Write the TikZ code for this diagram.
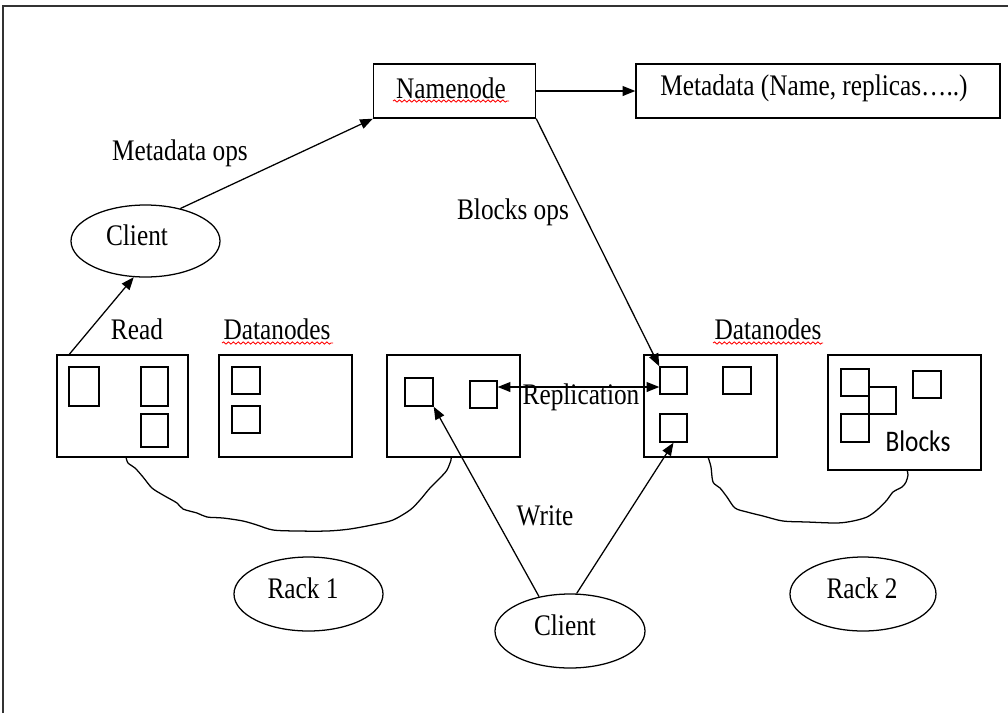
\documentclass[tikz,border=0pt]{standalone}
\usepackage{fontspec}
\setmainfont{Liberation Serif}
\newfontfamily\carlitofont{Carlito}
\usetikzlibrary{shapes.geometric,arrows.meta,decorations.pathmorphing,calc}
\newlength\pxl
\setlength\pxl{0.025cm}
\newcommand\tallt[1]{\scalebox{1}[1.18]{#1}}
\begin{document}
\begin{tikzpicture}[x=0.025cm,y=-0.025cm,
  line width=0.9pt,
  txt/.style={font=\fontsize{18}{21}\selectfont, inner sep=0pt},
  boxn/.style={draw, line width=1pt, inner sep=0pt},
  blk/.style={draw, line width=1pt, inner sep=0pt},
  ell/.style={draw, ellipse, inner sep=0pt, line width=0.9pt},
  arr/.style={-{Triangle[length=9pt,width=7pt]}},
  darr/.style={{Triangle[length=9pt,width=7pt]}-{Triangle[length=9pt,width=7pt]}},
  squig/.style={red, line width=0.6pt, decorate, decoration={snake, amplitude=0.8pt, segment length=3.5pt}}
]
\useasboundingbox (0,0) rectangle (1008,713);
% frame
\draw[line width=1.4pt, black!80] (3,713) -- (3,6) -- (1008,6);

% top boxes
\node[boxn, minimum width=162*\pxl, minimum height=54*\pxl] (nn) at (454.5,91) {};
\node[txt] (nnt) at (451,88) {\tallt{Namenode}};
\node[boxn, minimum width=364*\pxl, minimum height=54*\pxl] (md) at (818,91) {};
\node[txt] (mdt) at (814,88) {\tallt{Metadata (Name, replicas…..)}};
\draw[squig] (393,101) -- (509,101);

% labels
\node[txt] (mops) at (180,153) {\tallt{Metadata ops}};
\node[txt] (bops) at (513,212) {\tallt{Blocks ops}};
\node[txt] (read) at (137,329) {\tallt{Read}};
\node[txt] (dn1) at (277,329) {\tallt{Datanodes}};
\draw[squig] (222,343) -- (333,343);
\node[txt] (dn2) at (768,329) {\tallt{Datanodes}};
\draw[squig] (713,343) -- (823,343);
\node[txt] (write) at (545,516) {\tallt{Write}};

% client 1
\node[ell, minimum width=149*\pxl, minimum height=72*\pxl] (c1) at (145.5,241) {};
\node[txt] (c1t) at (137,235) {\tallt{Client}};

% rack 1 boxes
\node[boxn, minimum width=131*\pxl, minimum height=102*\pxl] (a) at (122.5,406) {};
\node[blk, minimum width=30*\pxl, minimum height=39*\pxl] (a1) at (84,386.5) {};
\node[blk, minimum width=27*\pxl, minimum height=39*\pxl] (a2) at (154.5,386.5) {};
\node[blk, minimum width=27*\pxl, minimum height=33*\pxl] (a3) at (154.5,430.5) {};

\node[boxn, minimum width=133*\pxl, minimum height=102*\pxl] (b) at (285.5,406) {};
\node[blk, minimum width=28*\pxl, minimum height=27*\pxl] (b1) at (246,380.5) {};
\node[blk, minimum width=28*\pxl, minimum height=27*\pxl] (b2) at (246,419.5) {};

\node[boxn, minimum width=133*\pxl, minimum height=102*\pxl] (c) at (453.5,406) {};
\node[blk, minimum width=28*\pxl, minimum height=28*\pxl] (cs1) at (419,392) {};
\node[blk, minimum width=27*\pxl, minimum height=27*\pxl] (cs2) at (483.5,394.5) {};

% rack 2 boxes
\node[boxn, minimum width=133*\pxl, minimum height=102*\pxl] (d) at (710.5,406) {};
\node[blk, minimum width=27*\pxl, minimum height=27*\pxl] (d1) at (673.5,380.5) {};
\node[blk, minimum width=28*\pxl, minimum height=27*\pxl] (d2) at (737,380.5) {};
\node[blk, minimum width=27*\pxl, minimum height=28*\pxl] (d3) at (673.5,428) {};

\node[boxn, minimum width=153*\pxl, minimum height=115*\pxl] (e) at (904.5,412.5) {};
\node[blk, minimum width=28*\pxl, minimum height=27*\pxl] (e1) at (855,382.5) {};
\node[blk, minimum width=27*\pxl, minimum height=27*\pxl] (e2) at (882.5,400.5) {};
\node[blk, minimum width=28*\pxl, minimum height=28*\pxl] (e3) at (855,428) {};
\node[blk, minimum width=28*\pxl, minimum height=27*\pxl] (e4) at (927,384.5) {};
\node[font=\carlitofont\fontsize{18}{21}\selectfont, inner sep=0pt] (blocks) at (918,441) {\tallt{Blocks}};

% replication
\coordinate (repy) at (580,387);
\draw[darr] (cs2.east |- repy) -- (d1.west |- repy);
\node[txt] (rep) at (581,397) {\tallt{Replication}};

% bottom ellipses
\node[ell, minimum width=149*\pxl, minimum height=74*\pxl] (r1) at (308.5,594) {};
\node[txt] (r1t) at (303,588) {\tallt{Rack 1}};
\node[ell, minimum width=150*\pxl, minimum height=74*\pxl] (c2) at (570,631) {};
\node[txt] (c2t) at (565,625) {\tallt{Client}};
\node[ell, minimum width=146*\pxl, minimum height=74*\pxl] (r2) at (863,594) {};
\node[txt] (r2t) at (862,588) {\tallt{Rack 2}};

% arrows
\draw[arr] (nn.east) -- (md.west);
\draw[arr] (c1.43) -- (nn.south west);
\draw[arr] (a.north west)++(13,0) -- (c1.252);
\draw[arr] (nn.south east) -- (d1.north west);
\draw[arr] (c2.132) -- (cs1.south east);
\draw[arr] (c2.80) -- (d3.south);

% rack curves
\draw[line width=0.9pt] plot[smooth, tension=0.5] coordinates {(126,457) (128,463) (135,468) (143,477) (152,488) (163,495) (177,503) (183,509) (197,513) (207,517) (223,518) (243,521) (257,525) (273,530) (297,531) (327,531) (350,529) (377,524) (393,520) (410,510) (420,500) (430,488) (440,478) (447,470) (451,460) (451,457)};
\draw[line width=0.9pt] plot[smooth, tension=0.5] coordinates {(708,457) (711,467) (713,482) (720,488) (727,497) (735,508) (747,512) (763,516) (783,521) (807,522) (837,523) (853,521) (867,517) (877,510) (887,500) (893,492) (902,487) (906,482) (908,475) (907,470)};
\end{tikzpicture}
\end{document}
